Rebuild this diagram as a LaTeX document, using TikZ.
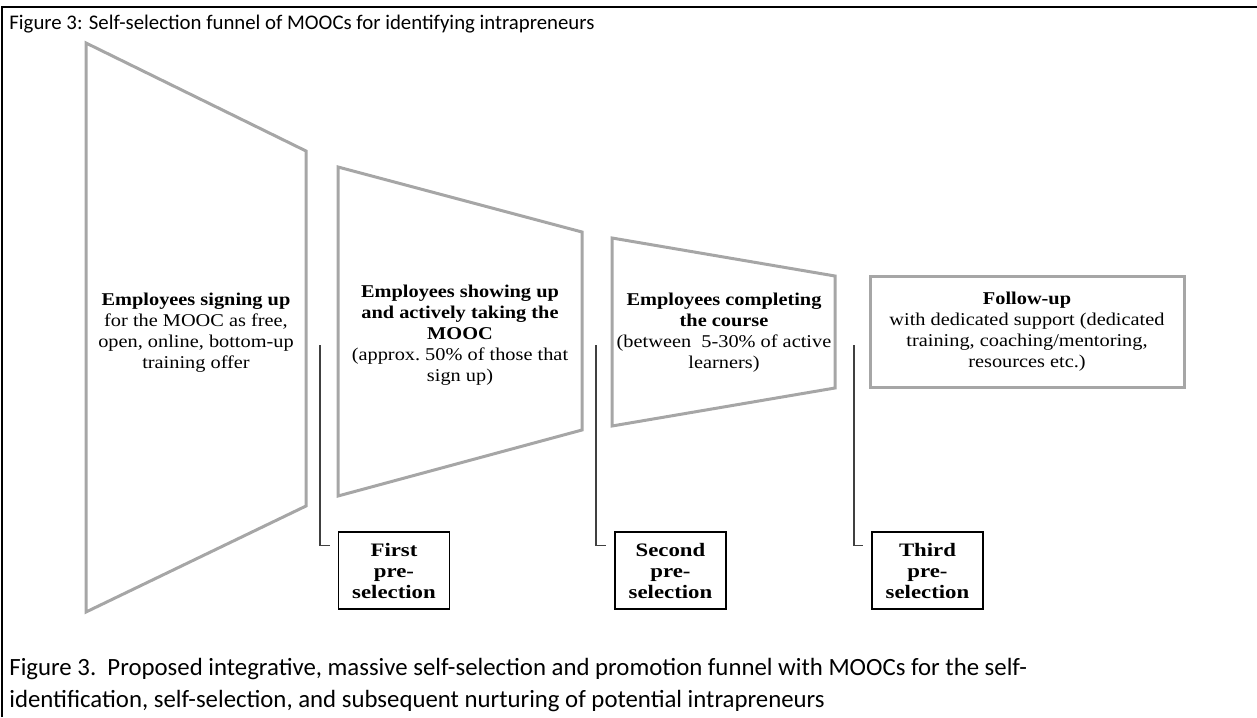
\documentclass[tikz,border=0pt]{standalone}
\usepackage{fontspec}
\setmainfont{Liberation Serif}[FakeStretch=1.13]
\newfontfamily\boxfont{Liberation Serif}[FakeStretch=1.2]
\newfontfamily\capfont{Carlito}
\usepackage{tikz}
\usepackage{xcolor}
\usetikzlibrary{positioning, calc}
\definecolor{cFunnel}{RGB}{166,166,166}
\definecolor{cBracket}{RGB}{64,64,64}
\tikzset{
	funnel/.style   ={draw=cFunnel, line width=1.5pt, line join=miter},
	stagetext/.style={align=center, inner sep=0pt, font=\fontsize{9}{10.5}\selectfont},
	followbox/.style={rectangle, draw=cFunnel, line width=1.5pt, minimum width=157pt, minimum height=55.5pt, align=center, inner sep=0pt, font=\fontsize{9}{10.5}\selectfont},
	prebox/.style   ={rectangle, draw=black, line width=0.7pt, minimum width=55.5pt, minimum height=38.5pt, align=center, inner sep=0pt, font=\boxfont\fontsize{9.5}{10.5}\selectfont\bfseries},
	bracket/.style  ={draw=cBracket, line width=0.7pt},
	frame/.style    ={draw=black, line width=1pt},
	titletext/.style={anchor=base west, inner sep=0pt, font=\capfont\fontsize{10.4}{12.5}\selectfont},
	captext/.style  ={anchor=base west, inner sep=0pt, font=\capfont\fontsize{12.4}{16}\selectfont},
}
\begin{document}
\begin{tikzpicture}[x=0.5pt, y=-0.5pt]
	\useasboundingbox (0,0) rectangle (1257,717);
	% frame and captions
	\draw[frame] (2,717) |- (1257,7);
	\node[titletext] (title) at (9,30) {Figure 3: Self-selection funnel of MOOCs for identifying intrapreneurs};
	\node[captext] (cap1) at (9,675) {Figure 3.\ \ Proposed integrative, massive self-selection and promotion funnel with MOOCs for the self-};
	\node[captext] (cap2) at (9,707) {identification, self-selection, and subsequent nurturing of potential intrapreneurs};
	% funnel stages
	\draw[funnel] (86,43) -- (306,151) -- (306,506) -- (86,612) -- cycle;
	\draw[funnel] (338,167) -- (582,232) -- (582,430) -- (338,496) -- cycle;
	\draw[funnel] (612,238) -- (835,276) -- (835,388) -- (612,426) -- cycle;
	\node[stagetext] (signup) at (196,333) {\textbf{Employees signing up}\\ for the MOOC as free,\\ open, online, bottom-up\\ training offer};
	\node[stagetext] (active) at (460,335) {\textbf{Employees showing up}\\ \textbf{and actively taking the}\\ \textbf{MOOC}\\ (approx.\ 50\% of those that\\ sign up)};
	\node[stagetext] (complete) at (724,333) {\textbf{Employees completing}\\ \textbf{the course}\\ (between\ \ 5-30\% of active\\ learners)};
	\node[followbox] (follow) at (1027,331.5) {\textbf{Follow-up}\\ with dedicated support (dedicated\\ training, coaching/mentoring,\\ resources etc.)};
	% pre-selection boxes
	\node[prebox] (pre1) at (394,570.5) {First\\ pre-\\ selection};
	\node[prebox] (pre2) at (670.5,570.5) {Second\\ pre-\\ selection};
	\node[prebox] (pre3) at (927.5,570.5) {Third\\ pre-\\ selection};
	\coordinate (b1) at (320,345);
	\coordinate (b2) at (596,345);
	\coordinate (b3) at (854,345);
	\draw[bracket] (b1) |- ($(pre1.north west)+(-8,14)$);
	\draw[bracket] (b2) |- ($(pre2.north west)+(-8,14)$);
	\draw[bracket] (b3) |- ($(pre3.north west)+(-8,14)$);
\end{tikzpicture}
\end{document}
